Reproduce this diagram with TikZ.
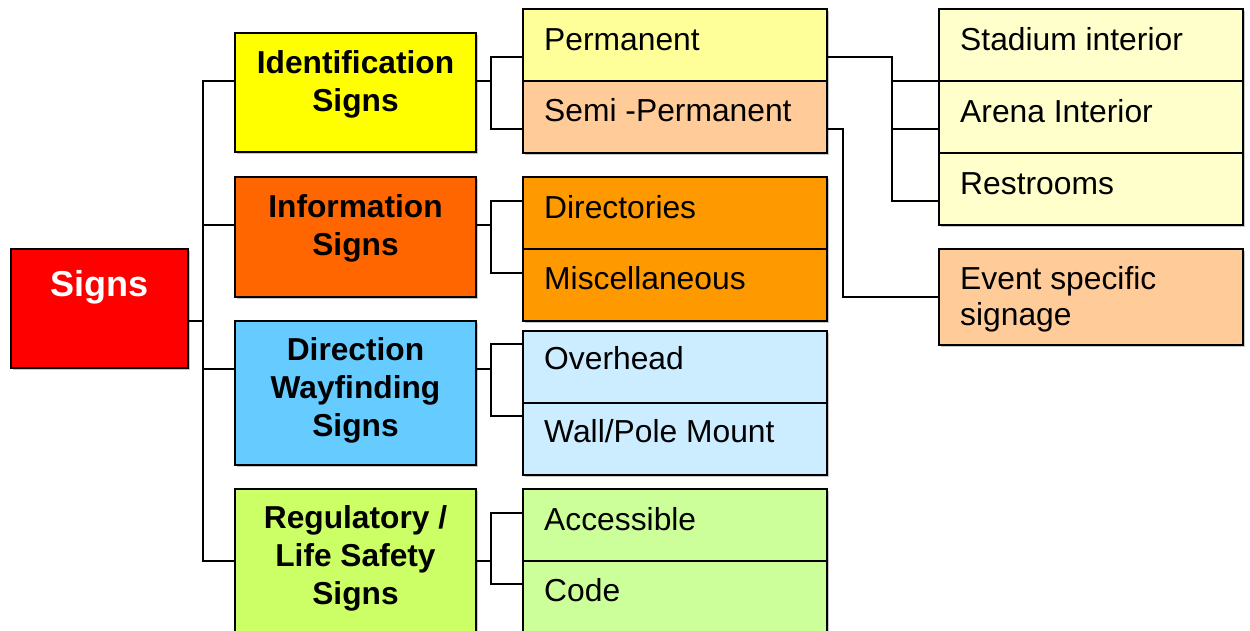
\documentclass[tikz,border=0pt]{standalone}
\usepackage{fontspec}
\setmainfont{Liberation Sans}
\usetikzlibrary{calc}

\definecolor{cRoot}{HTML}{FF0000}
\definecolor{cIdent}{HTML}{FFFF00}
\definecolor{cInfo}{HTML}{FF6600}
\definecolor{cDir}{HTML}{66CCFF}
\definecolor{cReg}{HTML}{CCFF66}
\definecolor{cPerm}{HTML}{FFFF99}
\definecolor{cSemi}{HTML}{FFCC99}
\definecolor{cInfoSub}{HTML}{FF9900}
\definecolor{cDirSub}{HTML}{CCECFF}
\definecolor{cRegSub}{HTML}{CCFF99}
\definecolor{cVenue}{HTML}{FFFFCC}
\definecolor{cShade}{HTML}{C8C8C8}

\tikzset{
  box/.style={draw=black, line width=2.4pt, anchor=north west,
    inner sep=0pt, outer sep=0pt,
    preaction={fill=cShade, transform canvas={shift={(2pt,-2pt)}}}},
  l1box/.style={box, minimum width=241, minimum height=#1},
  l2box/.style={box, minimum width=304, minimum height=#1},
  roottxt/.style={anchor=base, inner sep=0pt, text=white,
    font=\fontsize{36}{42}\selectfont\bfseries},
  headtxt/.style={anchor=base, inner sep=0pt, align=center,
    font=\fontsize{31.7}{38}\selectfont\bfseries},
  subtxt/.style={anchor=base west, inner sep=0pt, align=left,
    font=\fontsize{31.8}{36}\selectfont},
  conn/.style={draw=black, line width=2pt},
}

\begin{document}
\begin{tikzpicture}[x=1pt, y=-1pt]
\useasboundingbox (0,0) rectangle (1250,630);
\clip (0,0) rectangle (1250,630);
\fill[white] (0,0) rectangle (1250,630);

% root
\node[box, fill=cRoot, minimum width=177, minimum height=119] (signs) at (11,249) {};

% first level
\node[l1box=119, fill=cIdent] (id)   at (235,33)  {};
\node[l1box=120, fill=cInfo]  (info) at (235,177) {};
\node[l1box=144, fill=cDir]   (dir)  at (235,321) {};
\node[l1box=160, fill=cReg]   (reg)  at (235,489) {};

% second level
\node[l2box=72, fill=cPerm]    (perm) at (523,9)   {};
\node[l2box=72, fill=cSemi]    (semi) at (523,81)  {};
\node[l2box=72, fill=cInfoSub] (dirs) at (523,177) {};
\node[l2box=72, fill=cInfoSub] (misc) at (523,249) {};
\node[l2box=72, fill=cDirSub]  (over) at (523,331) {};
\node[l2box=72, fill=cDirSub]  (wall) at (523,403) {};
\node[l2box=72, fill=cRegSub]  (acc)  at (523,489) {};
\node[l2box=90, fill=cRegSub]  (code) at (523,561) {};

% third level
\node[l2box=72, fill=cVenue] (stad)  at (939,9)   {};
\node[l2box=72, fill=cVenue] (arena) at (939,81)  {};
\node[l2box=72, fill=cVenue] (rest)  at (939,153) {};
\node[l2box=96, fill=cSemi]  (event) at (939,249) {};

% labels (multi-line labels sit on the baseline of their last line)
\node[roottxt] (signs-t) at ($(signs.north)+(0,47)$) {Signs};
\node[headtxt] (id-t)   at ($(id.north)+(0,78)$)    {Identification\\Signs};
\node[headtxt] (info-t) at ($(info.north)+(0,78)$)  {Information\\Signs};
\node[headtxt] (dir-t)  at ($(dir.north)+(0,115)$)  {Direction\\Wayfinding\\Signs};
\node[headtxt] (reg-t)  at ($(reg.north)+(0,115)$)  {Regulatory /\\Life Safety\\Signs};

\node[subtxt] (perm-t) at ($(perm.north west)+(21,41)$) {Permanent};
\node[subtxt] (semi-t) at ($(semi.north west)+(21,40)$) {Semi -Permanent};
\node[subtxt] (dirs-t) at ($(dirs.north west)+(21,41)$) {Directories};
\node[subtxt] (misc-t) at ($(misc.north west)+(21,40)$) {Miscellaneous};
\node[subtxt] (over-t) at ($(over.north west)+(21,38)$) {Overhead};
\node[subtxt] (wall-t) at ($(wall.north west)+(21,39)$) {Wall/Pole Mount};
\node[subtxt] (acc-t)  at ($(acc.north west)+(21,41)$)  {Accessible};
\node[subtxt] (code-t) at ($(code.north west)+(21,40)$) {Code};

\node[subtxt] (stad-t)  at ($(stad.north west)+(21,41)$)  {Stadium interior};
\node[subtxt] (arena-t) at ($(arena.north west)+(21,41)$) {Arena Interior};
\node[subtxt] (rest-t)  at ($(rest.north west)+(21,41)$)  {Restrooms};
\node[subtxt] (event-t) at ($(event.north west)+(21,76)$) {Event specific\\signage};

% connector ports
\coordinate (signs-o) at ($(signs.north east)+(0,72)$);
\coordinate (id-i)   at ($(id.north west)+(0,48)$);
\coordinate (info-i) at ($(info.north west)+(0,48)$);
\coordinate (dir-i)  at ($(dir.north west)+(0,48)$);
\coordinate (reg-i)  at ($(reg.north west)+(0,72)$);
\coordinate (id-o)   at ($(id.north east)+(0,48)$);
\coordinate (info-o) at ($(info.north east)+(0,48)$);
\coordinate (dir-o)  at ($(dir.north east)+(0,48)$);
\coordinate (reg-o)  at ($(reg.north east)+(0,72)$);
\coordinate (perm-i) at ($(perm.north west)+(0,48)$);
\coordinate (semi-i) at ($(semi.north west)+(0,48)$);
\coordinate (dirs-i) at ($(dirs.north west)+(0,24)$);
\coordinate (misc-i) at ($(misc.north west)+(0,24)$);
\coordinate (over-i) at ($(over.north west)+(0,13)$);
\coordinate (wall-i) at ($(wall.north west)+(0,13)$);
\coordinate (acc-i)  at ($(acc.north west)+(0,24)$);
\coordinate (code-i) at ($(code.north west)+(0,23)$);
\coordinate (perm-o) at ($(perm.north east)+(0,48)$);
\coordinate (semi-o) at ($(semi.north east)+(0,48)$);
\coordinate (stad-i)  at ($(stad.north west)+(0,72)$);
\coordinate (arena-i) at ($(arena.north west)+(0,48)$);
\coordinate (rest-i)  at ($(rest.north west)+(0,48)$);
\coordinate (event-i) at ($(event.north west)+(0,48)$);

% vertical rails
\coordinate (trunk) at (203,0);
\coordinate (rail)  at (491,0);
\coordinate (railA) at (892,0);
\coordinate (railB) at (843,0);

% root to first level
\draw[conn] (signs-o) -- (signs-o -| trunk);
\draw[conn] (id-i) -- (id-i -| trunk) -- (reg-i -| trunk) -- (reg-i);
\draw[conn] (info-i -| trunk) -- (info-i);
\draw[conn] (dir-i -| trunk) -- (dir-i);

% first level to second level
\foreach \a/\b/\c in {id/perm/semi, info/dirs/misc, dir/over/wall, reg/acc/code}{
  \draw[conn] (\a-o) -- (\a-o -| rail);
  \draw[conn] (\b-i) -- (\b-i -| rail) -- (\c-i -| rail) -- (\c-i);
}

% second level to third level
\draw[conn] (perm-o) -- (perm-o -| railA) -- (rest-i -| railA) -- (rest-i);
\draw[conn] (stad-i -| railA) -- (stad-i);
\draw[conn] (arena-i -| railA) -- (arena-i);
\draw[conn] (semi-o) -- (semi-o -| railB) -- (event-i -| railB) -- (event-i);
\end{tikzpicture}
\end{document}
